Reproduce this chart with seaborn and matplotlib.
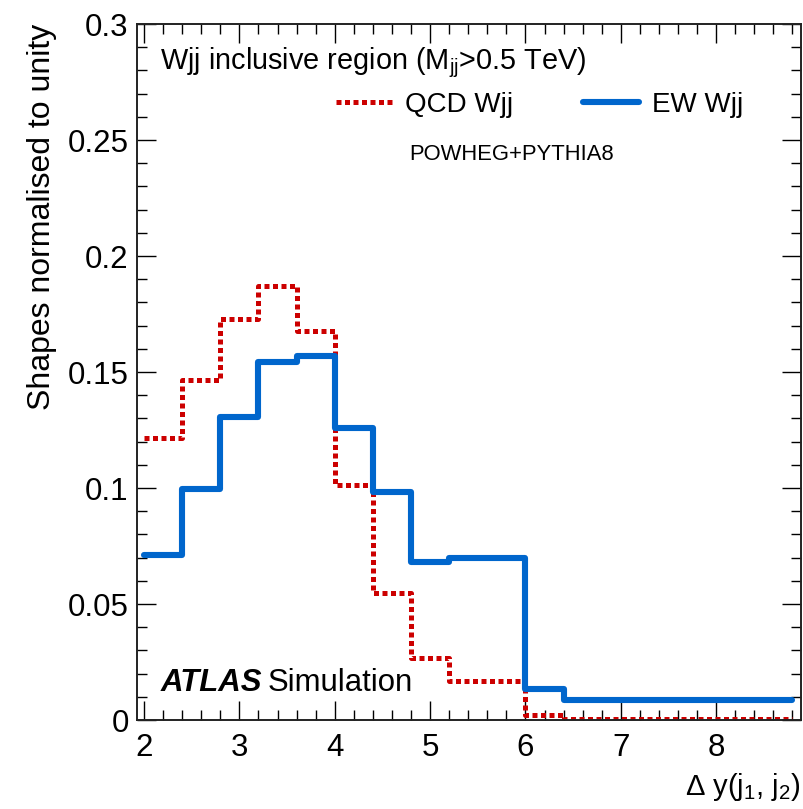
import numpy as np
import pandas as pd
import seaborn as sns
import matplotlib.pyplot as plt
from matplotlib.ticker import MultipleLocator, FormatStrFormatter

# bin edges of delta y(j1, j2) and normalised shapes
bin_edges = [2.0, 2.4, 2.8, 3.2, 3.6, 4.0, 4.4, 4.8, 5.2, 6.0, 6.4, 8.8]
qcd_wjj = [0.1214, 0.1466, 0.1727, 0.1871, 0.1678, 0.1013, 0.0549, 0.0266, 0.0168, 0.0022, 0.0004]
ew_wjj = [0.0711, 0.0994, 0.1305, 0.1545, 0.1570, 0.1259, 0.0984, 0.0680, 0.0700, 0.0134, 0.0086]

centres = [(a + b) / 2 for a, b in zip(bin_edges[:-1], bin_edges[1:])]
df = pd.DataFrame({
    "dy": centres * 2,
    "w": qcd_wjj + ew_wjj,
    "sample": ["QCD Wjj"] * len(qcd_wjj) + ["EW Wjj"] * len(ew_wjj),
})

sns.set_style("ticks")
plt.rcParams["font.family"] = ["Liberation Sans", "DejaVu Sans"]
plt.rcParams["mathtext.fontset"] = "custom"
plt.rcParams["mathtext.rm"] = "Liberation Sans"
plt.rcParams["mathtext.it"] = "Liberation Sans:italic"
plt.rcParams["text.color"] = "black"
plt.rcParams["axes.labelcolor"] = "black"
plt.rcParams["xtick.color"] = "black"
plt.rcParams["ytick.color"] = "black"

fig = plt.figure(figsize=(8.04, 8.09), dpi=100)
ax = fig.add_axes([0.1704, 0.11, 0.8259, 0.8603])

styles = {
    "QCD Wjj": dict(color="#cc0000", lw=3.6, ls=(0, (1.0, 0.7))),
    "EW Wjj": dict(color="#0066cc", lw=4.4, ls="-"),
}
for name in ["QCD Wjj", "EW Wjj"]:
    sub = df[df["sample"] == name]
    sns.histplot(x=sub["dy"], weights=sub["w"], bins=bin_edges, element="step",
                 fill=False, ax=ax, label=name, **styles[name])

ax.set_xlim(1.926, 8.89)
ax.set_ylim(0, 0.3)
ax.xaxis.set_major_locator(MultipleLocator(1))
ax.xaxis.set_minor_locator(MultipleLocator(0.2))
ax.yaxis.set_major_locator(MultipleLocator(0.05))
ax.yaxis.set_minor_locator(MultipleLocator(0.01))
ax.yaxis.set_major_formatter(FormatStrFormatter("%g"))
ax.tick_params(which="both", direction="in", top=True, right=True, width=1.0)
ax.tick_params(which="major", length=13.5, labelsize=22.5)
ax.tick_params(which="minor", length=7)
ax.tick_params(axis="x", which="major", pad=9)
ax.tick_params(axis="y", which="major", pad=6)
for s in ax.spines.values():
    s.set_linewidth(1.4)
    s.set_color("#222222")

ax.set_xlabel(r"$\Delta$ y(j$_1$, j$_2$)", fontsize=21, loc="right", labelpad=6)
ax.set_ylabel("Shapes normalised to unity", fontsize=23, loc="top", labelpad=8)

ax.text(0.035, 0.945, r"Wjj inclusive region (M$_\mathrm{jj}$>0.5 TeV)", transform=ax.transAxes,
        fontsize=20.8, va="center", ha="left")
ax.text(0.41, 0.812, "POWHEG+PYTHIA8", transform=ax.transAxes, fontsize=15.8, va="center")
ax.text(0.036, 0.053, "ATLAS", transform=ax.transAxes, fontsize=22.4, fontweight="bold",
        fontstyle="italic", va="center")
ax.text(0.196, 0.053, "Simulation", transform=ax.transAxes, fontsize=22.4, va="center")

ax.legend(loc="center left", bbox_to_anchor=(0.262, 0.884), ncol=2, frameon=False,
          fontsize=20, handlelength=2.0, columnspacing=2.5, handletextpad=0.5)

fig.savefig("out.png", dpi=100)
